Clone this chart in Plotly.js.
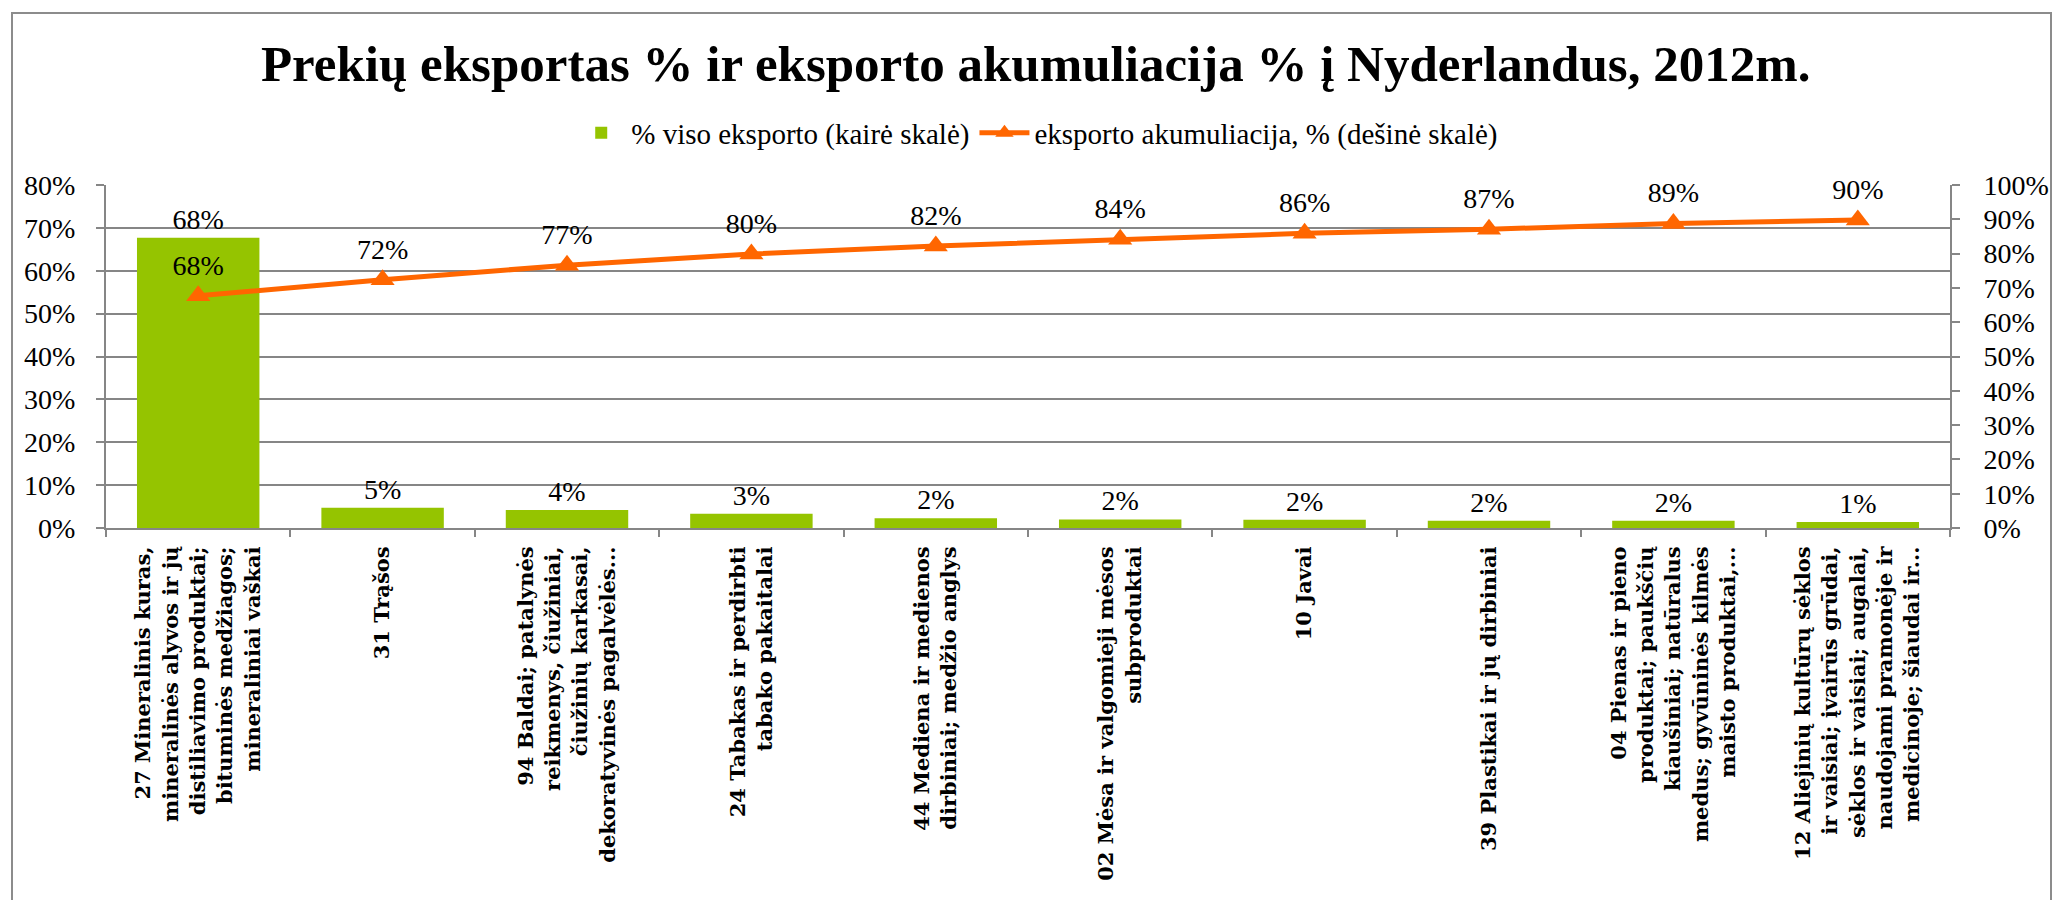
<!DOCTYPE html>
<html>
<head>
<meta charset="utf-8">
<script src="https://cdn.plot.ly/plotly-3.0.1.min.js"></script>
<style>
  html, body { margin: 0; padding: 0; background: #fff; }
  #chart { width: 2059px; height: 900px; position: absolute; left: 0; top: 0; }
  #frame { position: absolute; left: 11px; top: 12px; width: 2037px; height: 900px; border: 2px solid #8c8c8c; pointer-events: none; }
</style>
</head>
<body>
<div id="chart"></div>
<div id="frame"></div>
<script>
const categories = [
  "27 Mineralinis kuras,<br>mineralinės alyvos ir jų<br>distiliavimo produktai;<br>bituminės medžiagos;<br>mineraliniai vaškai",
  "31 Trąšos",
  "94 Baldai; patalynės<br>reikmenys, čiužiniai,<br>čiužinių karkasai,<br>dekoratyvinės pagalvėlės...",
  "24 Tabakas ir perdirbti<br>tabako pakaitalai",
  "44 Mediena ir medienos<br>dirbiniai; medžio anglys",
  "02 Mėsa ir valgomieji mėsos<br>subproduktai",
  "10 Javai",
  "39 Plastikai ir jų dirbiniai",
  "04 Pienas ir pieno<br>produktai; paukščių<br>kiaušiniai; natūralus<br>medus; gyvūninės kilmės<br>maisto produktai,...",
  "12 Aliejinių kultūrų sėklos<br>ir vaisiai; įvairūs grūdai,<br>sėklos ir vaisiai; augalai,<br>naudojami pramonėje ir<br>medicinoje; šiaudai ir..."
];
const exportShare = [67.7, 4.7, 4.2, 3.3, 2.3, 2.0, 1.9, 1.7, 1.7, 1.4];
const cumulative = [67.7, 72.4, 76.6, 79.9, 82.2, 84.2, 85.9, 87.1, 88.8, 89.8];
const catIds = categories.map((c, i) => i);

const serif = "Liberation Serif";

const traces = [
  {
    type: "bar",
    name: "% viso eksporto (kairė skalė)",
    x: catIds,
    y: exportShare,
    marker: { color: "#95c400" },
    text: exportShare.map(v => Math.round(v) + "%"),
    textposition: "outside",
    textfont: { family: serif, size: 28, color: "#000" },
    cliponaxis: false,
    yaxis: "y"
  },
  {
    type: "scatter",
    mode: "lines+markers+text",
    name: "eksporto akumuliacija, % (dešinė skalė)",
    x: catIds,
    y: cumulative,
    line: { color: "#ff6600", width: 5 },
    marker: { symbol: "triangle-up", size: 21, color: "#ff6600" },
    text: cumulative.map(v => Math.round(v) + "%"),
    textposition: "top center",
    textfont: { family: serif, size: 28, color: "#000" },
    cliponaxis: false,
    yaxis: "y2"
  }
];

const layout = {
  width: 2059,
  height: 900,
  paper_bgcolor: "#fff",
  plot_bgcolor: "#fff",
  margin: { l: 106, r: 109, t: 185, b: 372 },
  title: {
    text: "<b>Prekių eksportas % ir eksporto akumuliacija % į Nyderlandus, 2012m.</b>",
    font: { family: serif, size: 51, color: "#000" },
    x: 0.503, xanchor: "center",
    y: 0.93, yanchor: "middle"
  },
  showlegend: true,
  legend: {
    orientation: "h",
    x: 0.505, xanchor: "center",
    y: 1.152, yanchor: "middle",
    font: { family: serif, size: 29, color: "#000" },
    itemwidth: 50,
    traceorder: "normal"
  },
  bargap: 0.336,
  xaxis: {
    type: "linear",
    range: [-0.5, 9.5],
    tickmode: "array",
    tickvals: catIds,
    ticktext: categories.map(c => "<b>" + c.split("<br>").join("</b><br><b>") + "</b>"),
    tickangle: -90,
    tickfont: { family: "DejaVu Serif", size: 21, color: "#000" },
    ticklabelstandoff: 8,
    showline: true, linecolor: "#868686", linewidth: 2,
    ticks: "", showgrid: false, zeroline: false,
    fixedrange: true
  },
  xaxis2: {
    overlaying: "x",
    range: [-0.5, 9.5],
    tickmode: "linear", tick0: -0.5, dtick: 1,
    ticks: "outside", ticklen: 8, tickwidth: 2, tickcolor: "#868686",
    showticklabels: false, showgrid: false, zeroline: false, showline: false,
    anchor: "y", side: "bottom"
  },
  yaxis: {
    range: [0, 80], dtick: 10, ticksuffix: "%",
    tickfont: { family: serif, size: 28, color: "#000" },
    ticklabelstandoff: 15,
    showgrid: true, gridcolor: "#868686", gridwidth: 2,
    showline: true, linecolor: "#868686", linewidth: 2,
    ticks: "outside", ticklen: 8, tickwidth: 2, tickcolor: "#868686",
    zeroline: false
  },
  yaxis2: {
    overlaying: "y", side: "right",
    range: [0, 100], dtick: 10, ticksuffix: "%",
    tickfont: { family: serif, size: 28, color: "#000" },
    ticklabelstandoff: 18,
    showgrid: false,
    showline: true, linecolor: "#868686", linewidth: 2,
    ticks: "outside", ticklen: 8, tickwidth: 2, tickcolor: "#868686",
    zeroline: false
  }
};

// invisible helper trace so that xaxis2 draws tick marks at category boundaries
traces.push({
  type: "scatter", x: [catIds[0]], y: [exportShare[0]], xaxis: "x2", yaxis: "y",
  mode: "markers", marker: { opacity: 0 }, showlegend: false, hoverinfo: "skip"
});

Plotly.newPlot("chart", traces, layout, { displayModeBar: false, staticPlot: true });
</script>
</body>
</html>
